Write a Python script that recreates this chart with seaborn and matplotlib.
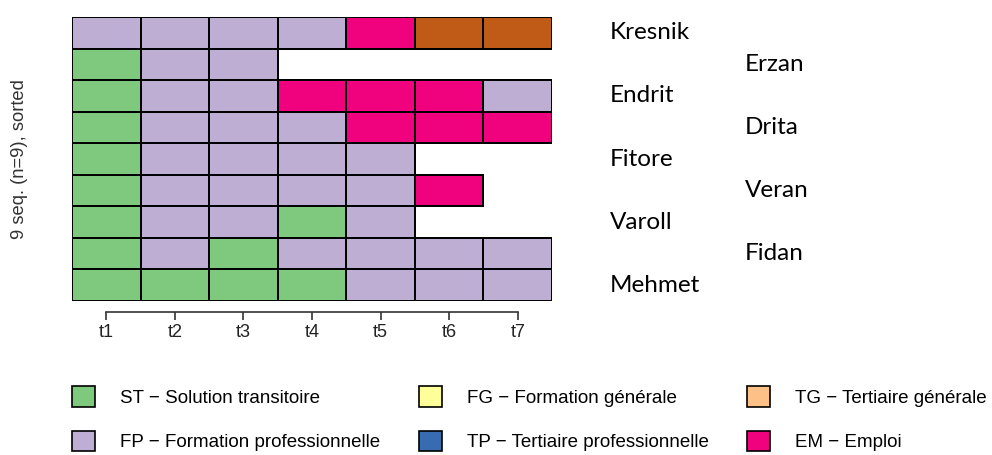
import matplotlib
matplotlib.use("Agg")
import matplotlib.pyplot as plt
from matplotlib.colors import ListedColormap
from matplotlib.patches import Patch
import seaborn as sns
import numpy as np
import pandas as pd

plt.rcParams["font.family"] = ["Liberation Sans", "DejaVu Sans"]

# etats et couleurs (palette Accent)
etats = ["ST", "FP", "FG", "TG", "TP", "EM", "XX"]
etat_labels = {
    "ST": "ST \u2212 Solution transitoire",
    "FP": "FP \u2212 Formation professionnelle",
    "FG": "FG \u2212 Formation générale",
    "TG": "TG \u2212 Tertiaire générale",
    "TP": "TP \u2212 Tertiaire professionnelle",
    "EM": "EM \u2212 Emploi",
}
couleurs = ["#7FC97F", "#BEAED4", "#FFFF99", "#FDC086", "#386CB0", "#F0027F", "#BF5B17"]

temps = ["t1", "t2", "t3", "t4", "t5", "t6", "t7"]
noms = ["Kresnik", "Erzan", "Endrit", "Drita", "Fitore", "Veran", "Varoll", "Fidan", "Mehmet"]

seq_kresnik = ["FP", "FP", "FP", "FP", "EM", "XX", "XX"]
seq_erzan = ["ST", "FP", "FP", None, None, None, None]
seq_endrit = ["ST", "FP", "FP", "EM", "EM", "EM", "FP"]
seq_drita = ["ST", "FP", "FP", "FP", "EM", "EM", "EM"]
seq_fitore = ["ST", "FP", "FP", "FP", "FP", None, None]
seq_veran = ["ST", "FP", "FP", "FP", "FP", "EM", None]
seq_varoll = ["ST", "FP", "FP", "ST", "FP", None, None]
seq_fidan = ["ST", "FP", "ST", "FP", "FP", "FP", "FP"]
seq_mehmet = ["ST", "ST", "ST", "ST", "FP", "FP", "FP"]

sequences = [seq_kresnik, seq_erzan, seq_endrit, seq_drita, seq_fitore,
             seq_veran, seq_varoll, seq_fidan, seq_mehmet]

codes = pd.DataFrame(
    [[np.nan if s is None else etats.index(s) for s in seq] for seq in sequences],
    index=noms, columns=temps,
)

fig = plt.figure(figsize=(9.92, 4.55), dpi=100)
ax = fig.add_axes([72 / 992, 1 - 301 / 455, 480 / 992, 284 / 455])

sns.heatmap(
    codes,
    ax=ax,
    cmap=ListedColormap(couleurs),
    vmin=-0.5,
    vmax=len(etats) - 0.5,
    cbar=False,
    linewidths=1.2,
    linecolor="black",
)

# pas de bordure pour les cases vides
mesh = ax.collections[0]
vides = codes.isna().to_numpy().ravel()
mesh.set_edgecolor([(0, 0, 0, 0) if v else (0, 0, 0, 1) for v in vides])

# axe x style R
ax.set_xticks(np.arange(len(temps)) + 0.5)
ax.set_xticklabels(temps, rotation=0)
ax.set_yticks([])
ax.set_xlabel("")
ax.set_ylabel("")
ax.tick_params(axis="x", length=5.5, width=1.2, color="#333333", pad=3,
               labelsize=13, labelcolor="#222222")
for s in ["top", "right", "left"]:
    ax.spines[s].set_visible(False)
ax.spines["bottom"].set_visible(True)
ax.spines["bottom"].set_position(("outward", 8))
ax.spines["bottom"].set_bounds(0.5, len(temps) - 0.5)
ax.spines["bottom"].set_color("#333333")
ax.spines["bottom"].set_linewidth(1.2)

fig.text(19.5 / 992, 1 - 159 / 455, "9 seq. (n=9), sorted", rotation=90,
         ha="center", va="center", fontsize=13.2, color="#333333")

# noms a droite, en quinconce
for i, nom in enumerate(noms):
    x = 7.84 if i % 2 == 0 else 9.81
    ax.text(x, i + 0.5, nom, ha="left", va="center", fontsize=17.5,
            family="Lato", clip_on=False)

# legende
ordre = ["ST", "FP", "FG", "TP", "TG", "EM"]
handles = [Patch(facecolor=couleurs[etats.index(e)], edgecolor="black", linewidth=1.2,
                 label=etat_labels[e]) for e in ordre]
fig.legend(
    handles=handles,
    ncol=3,
    loc="upper left",
    bbox_to_anchor=(72 / 992, 1 - 386 / 455),
    frameon=False,
    prop={"size": 13.5},
    borderpad=0,
    borderaxespad=0,
    handlelength=1.23,
    handleheight=1.33,
    handletextpad=1.33,
    columnspacing=2.05,
    labelspacing=1.27,
)

fig.savefig("out.png", dpi=100)
